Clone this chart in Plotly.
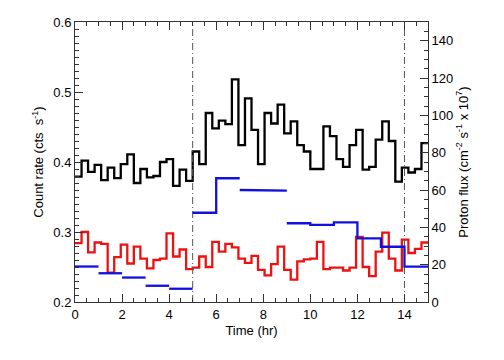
import plotly.graph_objects as go

# ---- data ----
bin_width_hr = 5.0 / 18.0
count_total = [0.379, 0.402, 0.386, 0.396, 0.374, 0.392, 0.377, 0.397, 0.411, 0.370,
               0.390, 0.378, 0.380, 0.400, 0.404, 0.366, 0.389, 0.373, 0.415, 0.397,
               0.470, 0.448, 0.459, 0.454, 0.518, 0.424, 0.491, 0.446, 0.397, 0.470,
               0.455, 0.482, 0.441, 0.458, 0.424, 0.415, 0.390, 0.390, 0.451, 0.437,
               0.404, 0.393, 0.424, 0.446, 0.389, 0.393, 0.432, 0.458, 0.430, 0.372,
               0.392, 0.385, 0.390, 0.427]
count_band = [0.284, 0.300, 0.271, 0.285, 0.283, 0.242, 0.264, 0.282, 0.255, 0.279,
              0.262, 0.248, 0.260, 0.262, 0.298, 0.265, 0.275, 0.247, 0.249, 0.265,
              0.250, 0.286, 0.272, 0.283, 0.278, 0.262, 0.256, 0.266, 0.246, 0.238,
              0.254, 0.279, 0.246, 0.232, 0.258, 0.261, 0.262, 0.286, 0.247, 0.249,
              0.249, 0.245, 0.249, 0.293, 0.250, 0.237, 0.272, 0.299, 0.262, 0.245,
              0.289, 0.270, 0.276, 0.285]
proton_hour_start = [0, 1, 2, 3, 4, 5, 6, 7, 8, 9, 10, 11, 12, 13, 14]
proton_flux = [19.0, 15.4, 13.1, 8.7, 7.1, 47.8, 66.3, 60.0, 59.7, 42.2, 41.3, 42.7, 34.1, 29.6, 18.9]
proton_break_after = [1, 2, 3, 4, 5, 7, 9]   # hours where the flux segments are not joined
event_times = [5, 14]

x_ticks = [0, 2, 4, 6, 8, 10, 12, 14]
y_ticks = [0.2, 0.3, 0.4, 0.5, 0.6]
y2_ticks = [0, 20, 40, 60, 80, 100, 120, 140]

# ---- build step series ----
n = len(count_total)
edges = [i * bin_width_hr for i in range(n + 1)]

bx, by = [], []
for h, v in zip(proton_hour_start, proton_flux):
    bx += [h, h + 1]
    by += [v, v]
    if (h + 1) in proton_break_after:
        bx.append(None)
        by.append(None)

fig = go.Figure()
fig.add_trace(go.Scatter(x=edges, y=count_total + [count_total[-1]], mode="lines",
                         line=dict(color="black", width=2.3, shape="hv"), showlegend=False))
fig.add_trace(go.Scatter(x=edges, y=count_band + [count_band[-1]], mode="lines",
                         line=dict(color="#ee1111", width=2.3, shape="hv"), showlegend=False))
fig.add_trace(go.Scatter(x=bx, y=by, mode="lines", yaxis="y2", connectgaps=False,
                         line=dict(color="#1111dd", width=2.3), showlegend=False))
for t in event_times:
    fig.add_trace(go.Scatter(x=[t, t], y=[0.2, 0.6], mode="lines",
                             line=dict(color="#555555", width=1, dash="7px,3px,1px,3px"),
                             showlegend=False))

font = dict(family="Liberation Sans, Arial, sans-serif", size=13, color="black")
axis_common = dict(showgrid=False, zeroline=False, ticks="inside", ticklen=8,
                   tickcolor="#333", linecolor="#333", linewidth=1, showline=True,
                   tickfont=font)

fig.update_layout(
    width=504, height=360,
    margin=dict(l=75, r=76, t=22, b=58),
    paper_bgcolor="white", plot_bgcolor="white",
    font=font,
    xaxis=dict(range=[0, 15], tickvals=x_ticks, mirror="ticks",
               title=dict(text="Time (hr)", font=font, standoff=5),
               minor=dict(dtick=0.5, ticklen=4, ticks="inside", tickcolor="#333"),
               **axis_common),
    yaxis=dict(range=[0.2, 0.6], tickvals=y_ticks, tickformat=".1f",
               title=dict(text="Count rate (cts  s<sup>-1</sup>)", font=font, standoff=6),
               minor=dict(dtick=0.01, ticklen=4, ticks="inside", tickcolor="#333"),
               **axis_common),
    yaxis2=dict(range=[0, 150], tickvals=y2_ticks, overlaying="y", side="right",
                title=dict(text="Proton flux (cm<sup>-2</sup> s<sup>-1</sup> x 10<sup>7</sup>)",
                           font=font, standoff=6),
                minor=dict(dtick=5, ticklen=4, ticks="inside", tickcolor="#333"),
                **axis_common),
)

fig.write_html("out.html", config={"displayModeBar": False},
               post_script="document.body.style.margin='0';document.body.style.overflow='hidden';")
